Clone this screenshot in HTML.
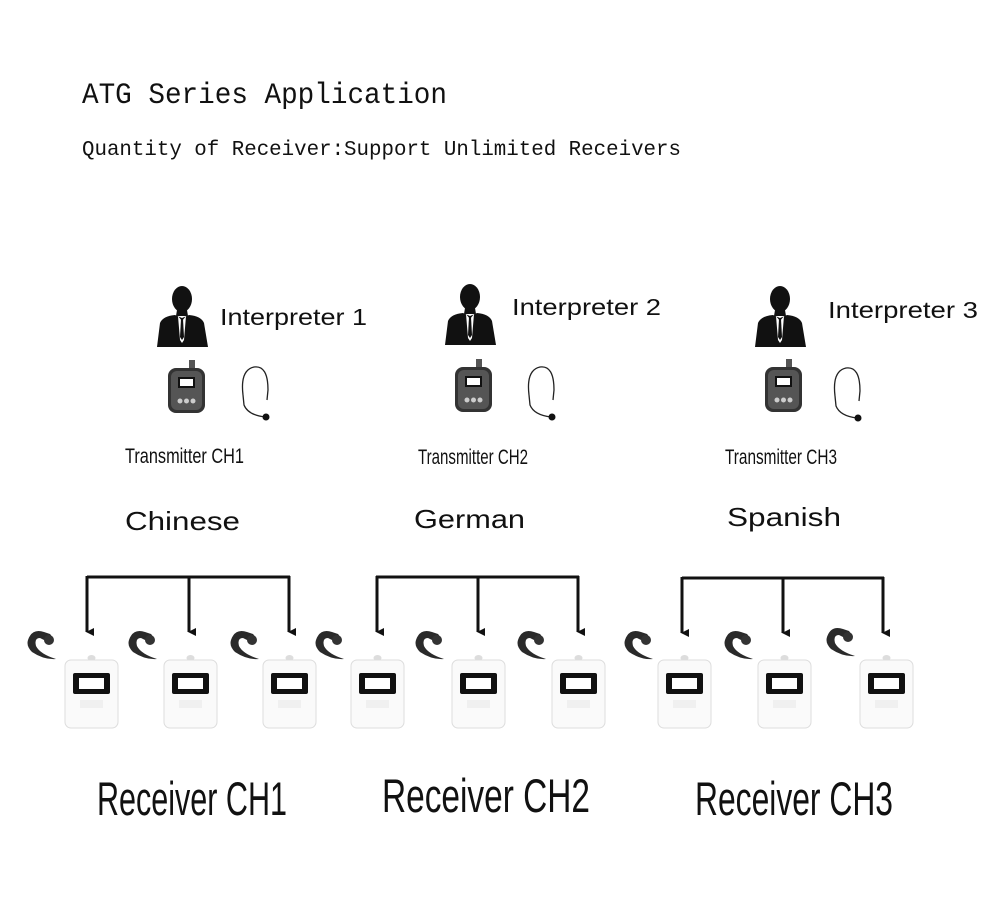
<!DOCTYPE html>
<html><head><meta charset="utf-8"><style>html,body{margin:0;padding:0;background:#fff}svg{display:block}</style></head>
<body>
<svg width="1000" height="905" viewBox="0 0 1000 905" xmlns="http://www.w3.org/2000/svg">
<defs>
  <g id="person">
    <ellipse cx="27" cy="14" rx="10" ry="13" fill="#111"/>
    <path d="M22 25 L32 25 L33 31 L21 31 Z" fill="#111"/>
    <path d="M2 62 L5 38 Q8 31 20 30 L27 33 L34 30 Q46 31 49 38 L53 62 Z" fill="#111"/>
    <path d="M23 31 L27 36 L31 31 L29 55 L27 58 L25 55 Z" fill="#fff"/>
    <path d="M26 34 L28 34 L29 52 L27 55 L25 52 Z" fill="#111"/>
  </g>
  <g id="tx">
    <rect x="21" y="0" width="6" height="10" fill="#555"/>
    <rect x="0" y="8" width="37" height="45" rx="8" fill="#333"/>
    <rect x="3" y="11" width="31" height="39" rx="6" fill="#555"/>
    <rect x="10" y="17" width="17" height="11" fill="#111"/>
    <rect x="12" y="19" width="13" height="7" fill="#fff"/>
    <circle cx="12" cy="41" r="2.5" fill="#ccc"/><circle cx="18.5" cy="41" r="2.5" fill="#ccc"/><circle cx="25" cy="41" r="2.5" fill="#ccc"/>
  </g>
  <g id="mic">
    <path d="M3 30 Q0 5 14 2 Q28 0 28 25 L27 35" fill="none" stroke="#222" stroke-width="1.3"/>
    <path d="M3 30 L4 40 Q8 50 25 52" fill="none" stroke="#222" stroke-width="1.3"/>
    <circle cx="26" cy="52" r="3.5" fill="#111"/>
  </g>
  <g id="hook">
    <path d="M4 12 Q8 0 20 4 L26 6 Q30 10 24 14 Q20 12 16 10 Q10 10 12 18 Q16 26 32 31 Q20 32 8 24 Q2 18 4 12 Z" fill="#2a2a2a"/>
    <circle cx="25" cy="12" r="5" fill="#333"/>
  </g>
  <g id="rx">
    <ellipse cx="26.5" cy="-2" rx="4" ry="3" fill="#ddd"/>
    <rect x="0" y="0" width="53" height="68" rx="6" fill="#fafafa" stroke="#ddd" stroke-width="1"/>
    <rect x="8" y="13" width="37" height="21" rx="2" fill="#111"/>
    <rect x="14" y="18" width="25" height="11" fill="#fff"/>
    <rect x="15" y="40" width="23" height="8" fill="#f0f0f0"/>
  </g>
  <marker id="ah" markerWidth="8" markerHeight="8" refX="4" refY="7" orient="auto" markerUnits="userSpaceOnUse">
    <path d="M0 0 L8 0 L4 8 Z" fill="#111"/>
  </marker>
</defs>

<text x="82" y="103" font-family="Liberation Mono, monospace" font-size="30" textLength="365" lengthAdjust="spacingAndGlyphs" fill="#111">ATG Series Application</text>
<text x="82" y="155" font-family="Liberation Mono, monospace" font-size="21" textLength="599" lengthAdjust="spacingAndGlyphs" fill="#111">Quantity of Receiver:Support Unlimited Receivers</text>

<use href="#person" x="155" y="285"/>
<use href="#person" x="443" y="283"/>
<use href="#person" x="753" y="285"/>
<g font-family="Liberation Sans, sans-serif" font-size="23" fill="#111">
<text x="220" y="325" textLength="147" lengthAdjust="spacingAndGlyphs">Interpreter 1</text>
<text x="512" y="315" textLength="149" lengthAdjust="spacingAndGlyphs">Interpreter 2</text>
<text x="828" y="318" textLength="150" lengthAdjust="spacingAndGlyphs">Interpreter 3</text>
</g>
<use href="#tx" x="168" y="360"/><use href="#mic" x="240" y="365"/>
<use href="#tx" x="455" y="359"/><use href="#mic" x="526" y="365"/>
<use href="#tx" x="765" y="359"/><use href="#mic" x="832" y="366"/>

<g font-family="Liberation Sans, sans-serif" font-size="21" fill="#111">
<text x="125" y="463" textLength="119" lengthAdjust="spacingAndGlyphs">Transmitter CH1</text>
<text x="418" y="464" textLength="110" lengthAdjust="spacingAndGlyphs">Transmitter CH2</text>
<text x="725" y="464" textLength="112" lengthAdjust="spacingAndGlyphs">Transmitter CH3</text>
</g>
<g font-family="Liberation Sans, sans-serif" font-size="26" fill="#111">
<text x="125" y="530" textLength="115" lengthAdjust="spacingAndGlyphs">Chinese</text>
<text x="414" y="528" textLength="111" lengthAdjust="spacingAndGlyphs">German</text>
<text x="727" y="526" textLength="114" lengthAdjust="spacingAndGlyphs">Spanish</text>
</g>

<g stroke="#111" stroke-width="3" fill="none">
<path d="M87 577 H290"/>
<path d="M87 576 V632" marker-end="url(#ah)"/><path d="M189 577 V632" marker-end="url(#ah)"/><path d="M289 576 V632" marker-end="url(#ah)"/>
<path d="M376 577 H579"/>
<path d="M377 576 V632" marker-end="url(#ah)"/><path d="M478 577 V632" marker-end="url(#ah)"/><path d="M578 576 V632" marker-end="url(#ah)"/>
<path d="M682 578 H884"/>
<path d="M682 577 V633" marker-end="url(#ah)"/><path d="M783 578 V633" marker-end="url(#ah)"/><path d="M883 577 V633" marker-end="url(#ah)"/>
</g>

<use href="#hook" x="24" y="628"/><use href="#rx" x="65" y="660"/>
<use href="#hook" x="125" y="628"/><use href="#rx" x="164" y="660"/>
<use href="#hook" x="227" y="628"/><use href="#rx" x="263" y="660"/>
<use href="#hook" x="312" y="628"/><use href="#rx" x="351" y="660"/>
<use href="#hook" x="412" y="628"/><use href="#rx" x="452" y="660"/>
<use href="#hook" x="514" y="628"/><use href="#rx" x="552" y="660"/>
<use href="#hook" x="621" y="628"/><use href="#rx" x="658" y="660"/>
<use href="#hook" x="721" y="628"/><use href="#rx" x="758" y="660"/>
<use href="#hook" x="823" y="625"/><use href="#rx" x="860" y="660"/>

<g font-family="Liberation Sans, sans-serif" font-size="47" fill="#111">
<text x="97" y="815" textLength="190" lengthAdjust="spacingAndGlyphs">Receiver CH1</text>
<text x="382" y="812" textLength="208" lengthAdjust="spacingAndGlyphs">Receiver CH2</text>
<text x="695" y="815" textLength="198" lengthAdjust="spacingAndGlyphs">Receiver CH3</text>
</g>
</svg>
</body></html>
